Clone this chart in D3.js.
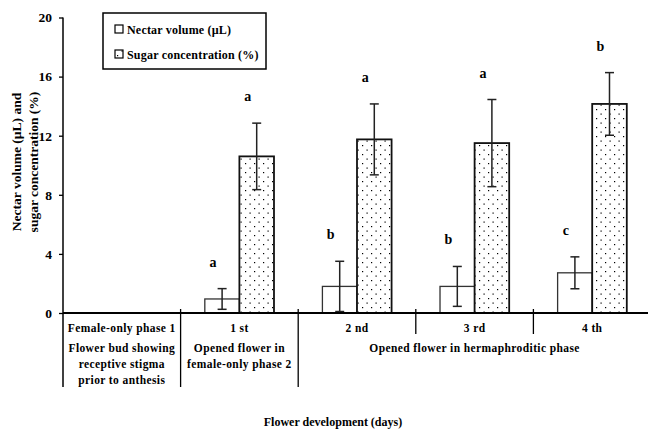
<!DOCTYPE html>
<html>
<head>
<meta charset="utf-8">
<script src="https://cdn.jsdelivr.net/npm/d3@7"></script>
<style>
  html, body { margin: 0; padding: 0; background: #fff; }
  svg text { font-family: "Liberation Serif", "Times New Roman", serif; font-weight: bold; fill: #000; }
</style>
</head>
<body>
<svg id="chart" width="648" height="429"></svg>
<script>
// Stages of flower development (one band per stage)
const stages = ["Female-only phase 1", "1 st", "2 nd", "3 rd", "4 th"];
const seriesNames = ["Nectar volume (\u00b5L)", "Sugar concentration (%)"];

// Means and error (± SE) per stage; null where not measured
const nectarMean  = [null, 0.95, 1.8, 1.8, 2.72];
const nectarErr   = [null, 0.7, 1.7, 1.35, 1.08];
const sugarMean   = [null, 10.6, 11.75, 11.5, 14.15];
const sugarErr    = [null, 2.25, 2.4, 2.95, 2.12];

// Significance letters
const nectarLetters = [null, "a", "b", "b", "c"];
const sugarLetters  = [null, "a", "a", "a", "b"];

const yTicks = [0, 4, 8, 12, 16, 20];

// Descriptions shown under the axis
const stageNotes = [
  ["Flower bud showing", "receptive stigma", "prior to anthesis"],
  ["Opened flower in", "female-only phase 2"]
];
const hermNote = "Opened flower in hermaphroditic phase";

const svg = d3.select("#chart");

const x = d3.scaleBand().domain(stages).range([63, 651]).paddingInner(0).paddingOuter(0);
const inner = d3.scaleBand().domain(seriesNames).range([0, x.bandwidth()]).paddingInner(0).paddingOuter(0.7);
const y = d3.scaleLinear().domain([0, 20]).range([313, 17.5]);

// Dot fill for the sugar bars
const defs = svg.append("defs");
const pat = defs.append("pattern")
  .attr("id", "dots").attr("patternUnits", "userSpaceOnUse")
  .attr("width", 9).attr("height", 9);
pat.append("rect").attr("width", 9).attr("height", 9).attr("fill", "#fff");
pat.append("rect").attr("x", 2).attr("y", 1).attr("width", 1.2).attr("height", 1.2).attr("fill", "#000");
pat.append("rect").attr("x", 6.5).attr("y", 5.5).attr("width", 1.2).attr("height", 1.2).attr("fill", "#000");

// Build rows for drawing
const rows = [];
stages.forEach((s, i) => {
  if (nectarMean[i] != null) rows.push({ stage: s, series: seriesNames[0], mean: nectarMean[i], err: nectarErr[i], letter: nectarLetters[i] });
  if (sugarMean[i] != null) rows.push({ stage: s, series: seriesNames[1], mean: sugarMean[i], err: sugarErr[i], letter: sugarLetters[i] });
});

const g = svg.append("g");

// Bars
g.selectAll("rect.bar").data(rows).join("rect")
  .attr("class", "bar")
  .attr("x", d => x(d.stage) + inner(d.series))
  .attr("y", d => y(d.mean))
  .attr("width", inner.bandwidth())
  .attr("height", d => y(0) - y(d.mean))
  .attr("fill", d => d.series === seriesNames[0] ? "#fff" : "url(#dots)")
  .attr("stroke", d => d.series === seriesNames[0] ? "#333" : "#111")
  .attr("stroke-width", d => d.series === seriesNames[0] ? 1.3 : 1.8);

// Error bars
const cx = d => x(d.stage) + inner(d.series) + inner.bandwidth() / 2;
const eb = g.selectAll("g.err").data(rows).join("g").attr("class", "err")
  .attr("stroke", "#222").attr("stroke-width", 1.5);
eb.append("line").attr("x1", cx).attr("x2", cx)
  .attr("y1", d => y(d.mean + d.err)).attr("y2", d => y(Math.max(0, d.mean - d.err)));
eb.append("line").attr("x1", d => cx(d) - 4.5).attr("x2", d => cx(d) + 4.5)
  .attr("y1", d => y(d.mean + d.err)).attr("y2", d => y(d.mean + d.err));
eb.append("line").attr("x1", d => cx(d) - 4.5).attr("x2", d => cx(d) + 4.5)
  .attr("y1", d => y(Math.max(0, d.mean - d.err))).attr("y2", d => y(Math.max(0, d.mean - d.err)));

// Letters
g.selectAll("text.letter").data(rows).join("text")
  .attr("class", "letter")
  .attr("x", d => cx(d) - 9)
  .attr("y", d => y(d.mean + d.err) - 22)
  .attr("text-anchor", "middle")
  .attr("font-size", 14)
  .text(d => d.letter);

// Y axis
const yAxis = d3.axisLeft(y).tickValues(yTicks).tickSize(4).tickPadding(7).tickFormat(d3.format("d"));
const ya = svg.append("g").attr("transform", "translate(63,0)").call(yAxis);
ya.select(".domain").attr("stroke", "#000").attr("stroke-width", 1.5).attr("d", "M0,17.5V313");
ya.selectAll(".tick line").attr("stroke", "#000").attr("stroke-width", 1.3);
ya.selectAll(".tick text").attr("font-size", 13.5).attr("font-family", "Liberation Serif").attr("font-weight", "bold");

// X axis baseline
svg.append("line").attr("x1", 63).attr("x2", 651).attr("y1", y(0)).attr("y2", y(0))
  .attr("stroke", "#000").attr("stroke-width", 1.8);

// Table dividers under the axis
const edge = i => x(stages[i]);
const dividers = [
  { xp: 63, y2: 387 },
  { xp: edge(1), y2: 387 },
  { xp: edge(2), y2: 387 },
  { xp: edge(3), y2: 334 },
  { xp: edge(4), y2: 334 }
];
svg.selectAll("line.div").data(dividers).join("line")
  .attr("class", "div")
  .attr("x1", d => d.xp).attr("x2", d => d.xp)
  .attr("y1", d => d.xp === 63 ? y(0) : y(0) - 4).attr("y2", d => d.y2)
  .attr("stroke", "#000").attr("stroke-width", d => d.xp === 63 ? 1.5 : 1.3);

// Stage names
svg.selectAll("text.stage").data(stages).join("text")
  .attr("class", "stage")
  .attr("x", d => x(d) + x.bandwidth() / 2)
  .attr("y", 332)
  .attr("text-anchor", "middle")
  .attr("font-size", 11.5)
  .attr("letter-spacing", 0.4)
  .text(d => d);

// Stage descriptions
stageNotes.forEach((lines, i) => {
  svg.append("g").selectAll("text").data(lines).join("text")
    .attr("x", x(stages[i]) + x.bandwidth() / 2)
    .attr("y", (d, j) => 352 + j * 16)
    .attr("text-anchor", "middle")
    .attr("font-size", 11.5)
    .attr("letter-spacing", 0.4)
    .text(d => d);
});
svg.append("text")
  .attr("x", (x(stages[2]) + 651) / 2)
  .attr("y", 352)
  .attr("text-anchor", "middle")
  .attr("font-size", 11.5)
  .attr("letter-spacing", 0.4)
  .text(hermNote);

// Axis titles
svg.append("text")
  .attr("x", 333).attr("y", 426)
  .attr("text-anchor", "middle")
  .attr("font-size", 12)
  .text("Flower development (days)");

const yt = svg.append("text")
  .attr("transform", "translate(0,162) rotate(-90)")
  .attr("text-anchor", "middle")
  .attr("font-size", 13.5);
yt.append("tspan").attr("x", 0).attr("y", 21).text("Nectar volume (\u00b5L) and");
yt.append("tspan").attr("x", 0).attr("y", 38).text("sugar concentration (%)");

// Legend
const lg = svg.append("g").attr("transform", "translate(103,13)");
lg.append("rect").attr("width", 163).attr("height", 56)
  .attr("fill", "#fff").attr("stroke", "#000").attr("stroke-width", 1.5);
const items = lg.selectAll("g.item").data(seriesNames).join("g")
  .attr("class", "item")
  .attr("transform", (d, i) => `translate(12,${16 + i * 25})`);
items.append("rect").attr("width", 8).attr("height", 8).attr("y", -4)
  .attr("fill", (d, i) => i === 0 ? "#fff" : "url(#dots)")
  .attr("stroke", "#000").attr("stroke-width", 1.2);
items.append("text").attr("x", 12).attr("y", 4.5)
  .attr("font-size", 12)
  .attr("letter-spacing", 0.2)
  .text(d => d);
</script>
</body>
</html>
